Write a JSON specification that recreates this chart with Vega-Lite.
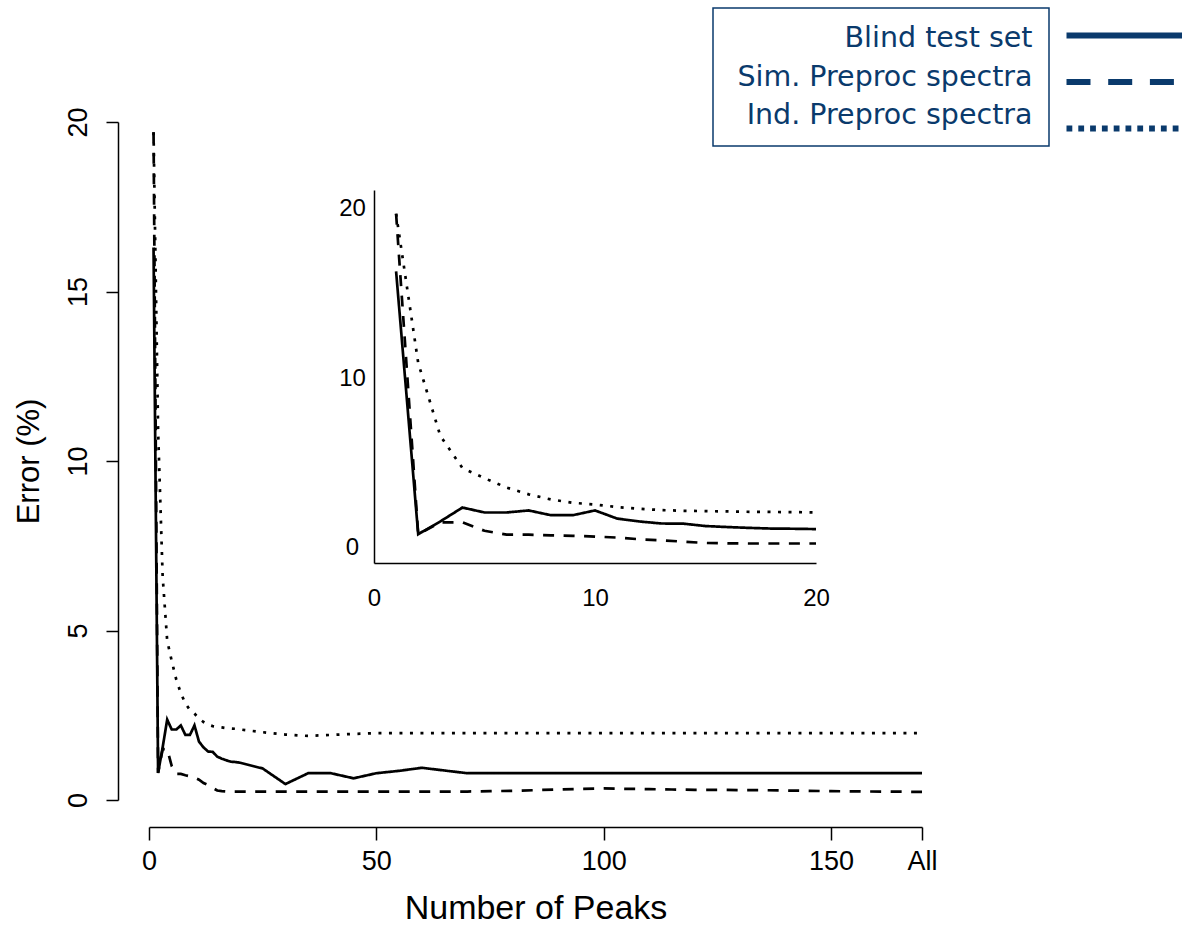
{
  "$schema": "https://vega.github.io/schema/vega-lite/v6.json",
  "autosize": "none",
  "width": 773,
  "height": 678,
  "padding": {"left": 149, "top": 122, "right": 260, "bottom": 125},
  "background": "white",
  "config": {"view": {"stroke": null}, "legend": {"strokeWidth": 1.5}},
  "data": {"values": [
    {"peaks":1,"error":16.3,"series":"Blind test set"},{"peaks":2,"error":0.8,"series":"Blind test set"},{"peaks":3,"error":1.55,"series":"Blind test set"},{"peaks":4,"error":2.37,"series":"Blind test set"},{"peaks":5,"error":2.08,"series":"Blind test set"},{"peaks":6,"error":2.08,"series":"Blind test set"},{"peaks":7,"error":2.2,"series":"Blind test set"},{"peaks":8,"error":1.92,"series":"Blind test set"},{"peaks":9,"error":1.92,"series":"Blind test set"},{"peaks":10,"error":2.2,"series":"Blind test set"},{"peaks":11,"error":1.72,"series":"Blind test set"},{"peaks":12,"error":1.55,"series":"Blind test set"},{"peaks":13,"error":1.43,"series":"Blind test set"},{"peaks":14,"error":1.42,"series":"Blind test set"},{"peaks":15,"error":1.28,"series":"Blind test set"},{"peaks":16,"error":1.22,"series":"Blind test set"},{"peaks":17,"error":1.17,"series":"Blind test set"},{"peaks":18,"error":1.13,"series":"Blind test set"},{"peaks":19,"error":1.12,"series":"Blind test set"},{"peaks":20,"error":1.1,"series":"Blind test set"},{"peaks":25,"error":0.93,"series":"Blind test set"},{"peaks":30,"error":0.47,"series":"Blind test set"},{"peaks":35,"error":0.79,"series":"Blind test set"},{"peaks":40,"error":0.79,"series":"Blind test set"},{"peaks":45,"error":0.64,"series":"Blind test set"},{"peaks":50,"error":0.79,"series":"Blind test set"},{"peaks":55,"error":0.86,"series":"Blind test set"},{"peaks":60,"error":0.95,"series":"Blind test set"},{"peaks":65,"error":0.87,"series":"Blind test set"},{"peaks":70,"error":0.79,"series":"Blind test set"},{"peaks":75,"error":0.79,"series":"Blind test set"},{"peaks":80,"error":0.79,"series":"Blind test set"},{"peaks":85,"error":0.79,"series":"Blind test set"},{"peaks":90,"error":0.79,"series":"Blind test set"},{"peaks":95,"error":0.79,"series":"Blind test set"},{"peaks":100,"error":0.79,"series":"Blind test set"},{"peaks":105,"error":0.79,"series":"Blind test set"},{"peaks":110,"error":0.79,"series":"Blind test set"},{"peaks":115,"error":0.79,"series":"Blind test set"},{"peaks":120,"error":0.79,"series":"Blind test set"},{"peaks":125,"error":0.79,"series":"Blind test set"},{"peaks":130,"error":0.79,"series":"Blind test set"},{"peaks":135,"error":0.79,"series":"Blind test set"},{"peaks":140,"error":0.79,"series":"Blind test set"},{"peaks":145,"error":0.79,"series":"Blind test set"},{"peaks":150,"error":0.79,"series":"Blind test set"},{"peaks":170,"error":0.79,"series":"Blind test set"},
    {"peaks":1,"error":19.7,"series":"Sim. Preproc spectra"},{"peaks":2,"error":0.8,"series":"Sim. Preproc spectra"},{"peaks":3,"error":1.5,"series":"Sim. Preproc spectra"},{"peaks":4,"error":1.5,"series":"Sim. Preproc spectra"},{"peaks":5,"error":1.0,"series":"Sim. Preproc spectra"},{"peaks":6,"error":0.77,"series":"Sim. Preproc spectra"},{"peaks":7,"error":0.77,"series":"Sim. Preproc spectra"},{"peaks":8,"error":0.73,"series":"Sim. Preproc spectra"},{"peaks":9,"error":0.7,"series":"Sim. Preproc spectra"},{"peaks":10,"error":0.66,"series":"Sim. Preproc spectra"},{"peaks":11,"error":0.6,"series":"Sim. Preproc spectra"},{"peaks":12,"error":0.5,"series":"Sim. Preproc spectra"},{"peaks":13,"error":0.44,"series":"Sim. Preproc spectra"},{"peaks":14,"error":0.36,"series":"Sim. Preproc spectra"},{"peaks":15,"error":0.28,"series":"Sim. Preproc spectra"},{"peaks":16,"error":0.26,"series":"Sim. Preproc spectra"},{"peaks":17,"error":0.25,"series":"Sim. Preproc spectra"},{"peaks":18,"error":0.25,"series":"Sim. Preproc spectra"},{"peaks":19,"error":0.25,"series":"Sim. Preproc spectra"},{"peaks":20,"error":0.25,"series":"Sim. Preproc spectra"},{"peaks":25,"error":0.25,"series":"Sim. Preproc spectra"},{"peaks":30,"error":0.25,"series":"Sim. Preproc spectra"},{"peaks":35,"error":0.25,"series":"Sim. Preproc spectra"},{"peaks":40,"error":0.25,"series":"Sim. Preproc spectra"},{"peaks":45,"error":0.25,"series":"Sim. Preproc spectra"},{"peaks":50,"error":0.25,"series":"Sim. Preproc spectra"},{"peaks":55,"error":0.25,"series":"Sim. Preproc spectra"},{"peaks":60,"error":0.25,"series":"Sim. Preproc spectra"},{"peaks":65,"error":0.25,"series":"Sim. Preproc spectra"},{"peaks":70,"error":0.25,"series":"Sim. Preproc spectra"},{"peaks":75,"error":0.26,"series":"Sim. Preproc spectra"},{"peaks":80,"error":0.27,"series":"Sim. Preproc spectra"},{"peaks":85,"error":0.29,"series":"Sim. Preproc spectra"},{"peaks":90,"error":0.31,"series":"Sim. Preproc spectra"},{"peaks":95,"error":0.33,"series":"Sim. Preproc spectra"},{"peaks":100,"error":0.34,"series":"Sim. Preproc spectra"},{"peaks":105,"error":0.33,"series":"Sim. Preproc spectra"},{"peaks":110,"error":0.32,"series":"Sim. Preproc spectra"},{"peaks":115,"error":0.31,"series":"Sim. Preproc spectra"},{"peaks":120,"error":0.3,"series":"Sim. Preproc spectra"},{"peaks":125,"error":0.3,"series":"Sim. Preproc spectra"},{"peaks":130,"error":0.29,"series":"Sim. Preproc spectra"},{"peaks":135,"error":0.29,"series":"Sim. Preproc spectra"},{"peaks":140,"error":0.28,"series":"Sim. Preproc spectra"},{"peaks":145,"error":0.27,"series":"Sim. Preproc spectra"},{"peaks":150,"error":0.26,"series":"Sim. Preproc spectra"},{"peaks":170,"error":0.24,"series":"Sim. Preproc spectra"},
    {"peaks":1,"error":19.7,"series":"Ind. Preproc spectra"},{"peaks":2,"error":10.9,"series":"Ind. Preproc spectra"},{"peaks":3,"error":6.6,"series":"Ind. Preproc spectra"},{"peaks":4,"error":4.7,"series":"Ind. Preproc spectra"},{"peaks":5,"error":4.1,"series":"Ind. Preproc spectra"},{"peaks":6,"error":3.55,"series":"Ind. Preproc spectra"},{"peaks":7,"error":3.15,"series":"Ind. Preproc spectra"},{"peaks":8,"error":2.85,"series":"Ind. Preproc spectra"},{"peaks":9,"error":2.65,"series":"Ind. Preproc spectra"},{"peaks":10,"error":2.55,"series":"Ind. Preproc spectra"},{"peaks":11,"error":2.4,"series":"Ind. Preproc spectra"},{"peaks":12,"error":2.3,"series":"Ind. Preproc spectra"},{"peaks":13,"error":2.22,"series":"Ind. Preproc spectra"},{"peaks":14,"error":2.18,"series":"Ind. Preproc spectra"},{"peaks":15,"error":2.16,"series":"Ind. Preproc spectra"},{"peaks":16,"error":2.14,"series":"Ind. Preproc spectra"},{"peaks":17,"error":2.12,"series":"Ind. Preproc spectra"},{"peaks":18,"error":2.11,"series":"Ind. Preproc spectra"},{"peaks":19,"error":2.1,"series":"Ind. Preproc spectra"},{"peaks":20,"error":2.08,"series":"Ind. Preproc spectra"},{"peaks":25,"error":2.0,"series":"Ind. Preproc spectra"},{"peaks":30,"error":1.93,"series":"Ind. Preproc spectra"},{"peaks":35,"error":1.89,"series":"Ind. Preproc spectra"},{"peaks":40,"error":1.92,"series":"Ind. Preproc spectra"},{"peaks":45,"error":1.95,"series":"Ind. Preproc spectra"},{"peaks":50,"error":1.97,"series":"Ind. Preproc spectra"},{"peaks":55,"error":1.97,"series":"Ind. Preproc spectra"},{"peaks":60,"error":1.97,"series":"Ind. Preproc spectra"},{"peaks":65,"error":1.97,"series":"Ind. Preproc spectra"},{"peaks":70,"error":1.97,"series":"Ind. Preproc spectra"},{"peaks":75,"error":1.97,"series":"Ind. Preproc spectra"},{"peaks":80,"error":1.97,"series":"Ind. Preproc spectra"},{"peaks":85,"error":1.97,"series":"Ind. Preproc spectra"},{"peaks":90,"error":1.97,"series":"Ind. Preproc spectra"},{"peaks":95,"error":1.97,"series":"Ind. Preproc spectra"},{"peaks":100,"error":1.97,"series":"Ind. Preproc spectra"},{"peaks":105,"error":1.97,"series":"Ind. Preproc spectra"},{"peaks":110,"error":1.97,"series":"Ind. Preproc spectra"},{"peaks":115,"error":1.97,"series":"Ind. Preproc spectra"},{"peaks":120,"error":1.97,"series":"Ind. Preproc spectra"},{"peaks":125,"error":1.97,"series":"Ind. Preproc spectra"},{"peaks":130,"error":1.97,"series":"Ind. Preproc spectra"},{"peaks":135,"error":1.97,"series":"Ind. Preproc spectra"},{"peaks":140,"error":1.97,"series":"Ind. Preproc spectra"},{"peaks":145,"error":1.97,"series":"Ind. Preproc spectra"},{"peaks":150,"error":1.97,"series":"Ind. Preproc spectra"},{"peaks":170,"error":1.97,"series":"Ind. Preproc spectra"}
  ]},
  "layer": [
    {
      "mark": {"type": "line", "strokeWidth": 2.7},
      "encoding": {
        "x": {"field": "peaks", "type": "quantitative",
          "scale": {"domain": [0, 170], "nice": false, "zero": false},
          "axis": {"title": "Number of Peaks", "orient": "bottom", "offset": 27, "grid": false,
            "values": [0, 50, 100, 150, 170], "labelExpr": "datum.value == 170 ? 'All' : datum.label",
            "domainColor": "black", "domainWidth": 1.5, "tickColor": "black", "tickWidth": 1.5, "tickSize": 13,
            "labelFont": "Liberation Sans", "labelFontSize": 27, "labelColor": "black", "labelPadding": 8, "labelBaseline": "top", "labelFlush": false, "labelOverlap": false,
            "titleFont": "Liberation Sans", "titleFontSize": 34, "titleFontWeight": "normal", "titleColor": "black", "titlePadding": 17}},
        "y": {"field": "error", "type": "quantitative",
          "scale": {"domain": [0, 20], "nice": false},
          "axis": {"title": "Error (%)", "orient": "left", "offset": 31, "grid": false,
            "values": [0, 5, 10, 15, 20],
            "domainColor": "black", "domainWidth": 1.5, "tickColor": "black", "tickWidth": 1.5, "tickSize": 12,
            "labelFont": "Liberation Sans", "labelFontSize": 27, "labelColor": "black", "labelAngle": -90, "labelAlign": "center", "labelBaseline": "alphabetic", "labelPadding": 20, "labelFlush": false, "labelOverlap": false,
            "titleFont": "Liberation Sans", "titleFontSize": 31, "titleFontWeight": "normal", "titleColor": "black", "titlePadding": 19}},
        "color": {"field": "series", "type": "nominal",
          "scale": {"domain": ["Blind test set", "Sim. Preproc spectra", "Ind. Preproc spectra"], "range": ["black", "black", "black"]},
          "legend": {"orient": "none", "legendX": 564, "legendY": -114, "title": null, "padding": 16,
            "strokeColor": "#0a3a6c", "symbolOpacity": 0, "symbolSize": 1,
            "labelAlign": "right", "labelOffset": 275, "labelFont": "DejaVu Sans", "labelFontSize": 28.5, "labelColor": "#0a3a6c", "labelLimit": 500, "rowPadding": 9.5}},
        "strokeDash": {"field": "series", "type": "nominal",
          "sort": ["Blind test set", "Sim. Preproc spectra", "Ind. Preproc spectra"],
          "scale": {"range": [[1, 0], [11, 9.5], [3, 7.5]]},
          "legend": null},
        "opacity": {"field": "series", "type": "ordinal",
          "sort": ["Blind test set", "Sim. Preproc spectra", "Ind. Preproc spectra"],
          "scale": {"range": [1, 1]},
          "legend": {"orient": "none", "legendX": 958, "legendY": -104, "title": null, "padding": 0,
            "symbolType": "M-4,0H4", "symbolSize": 841, "symbolStrokeWidth": 6, "symbolStrokeColor": "#0a3a6c",
            "symbolDash": {"expr": "datum.value === 'Sim. Preproc spectra' ? [24, 17.7] : datum.value === 'Ind. Preproc spectra' ? [5.8, 6] : [1, 0]"},
            "labelExpr": "''", "labelFontSize": 1, "rowPadding": 16.5}}
      }
    },
    {
      "transform": [{"filter": "datum.peaks <= 20"}],
      "mark": {"type": "line", "strokeWidth": 2.7},
      "encoding": {
        "x": {"field": "peaks", "type": "quantitative",
          "scale": {"domain": [0, 20], "nice": false, "zero": false, "range": [225, 667]},
          "axis": {"title": null, "orient": "bottom", "offset": -237, "grid": false, "values": [0, 10, 20],
            "domainColor": "black", "domainWidth": 1.5, "ticks": false, "tickSize": 0,
            "labelFont": "Liberation Sans", "labelFontSize": 24, "labelColor": "black", "labelPadding": 23, "labelBaseline": "top", "labelFlush": false, "labelOverlap": false}},
        "y": {"field": "error", "type": "quantitative",
          "scale": {"domain": [-0.9, 21.1], "nice": false, "zero": false, "range": [441, 68]},
          "axis": {"title": null, "orient": "left", "offset": -225, "grid": false, "values": [0, 10, 20],
            "domainColor": "black", "domainWidth": 1.5, "ticks": false, "tickSize": 0,
            "labelFont": "Liberation Sans", "labelFontSize": 24, "labelColor": "black", "labelAlign": "center", "labelBaseline": "middle", "labelPadding": 22, "labelFlush": false, "labelOverlap": false}},
        "color": {"field": "series", "type": "nominal",
          "scale": {"domain": ["Blind test set", "Sim. Preproc spectra", "Ind. Preproc spectra"], "range": ["black", "black", "black"]}},
        "strokeDash": {"field": "series", "type": "nominal",
          "sort": ["Blind test set", "Sim. Preproc spectra", "Ind. Preproc spectra"],
          "scale": {"range": [[1, 0], [11, 9.5], [3, 7.5]]}}
      }
    }
  ],
  "resolve": {"scale": {"x": "independent", "y": "independent"}, "axis": {"x": "independent", "y": "independent"}}
}
